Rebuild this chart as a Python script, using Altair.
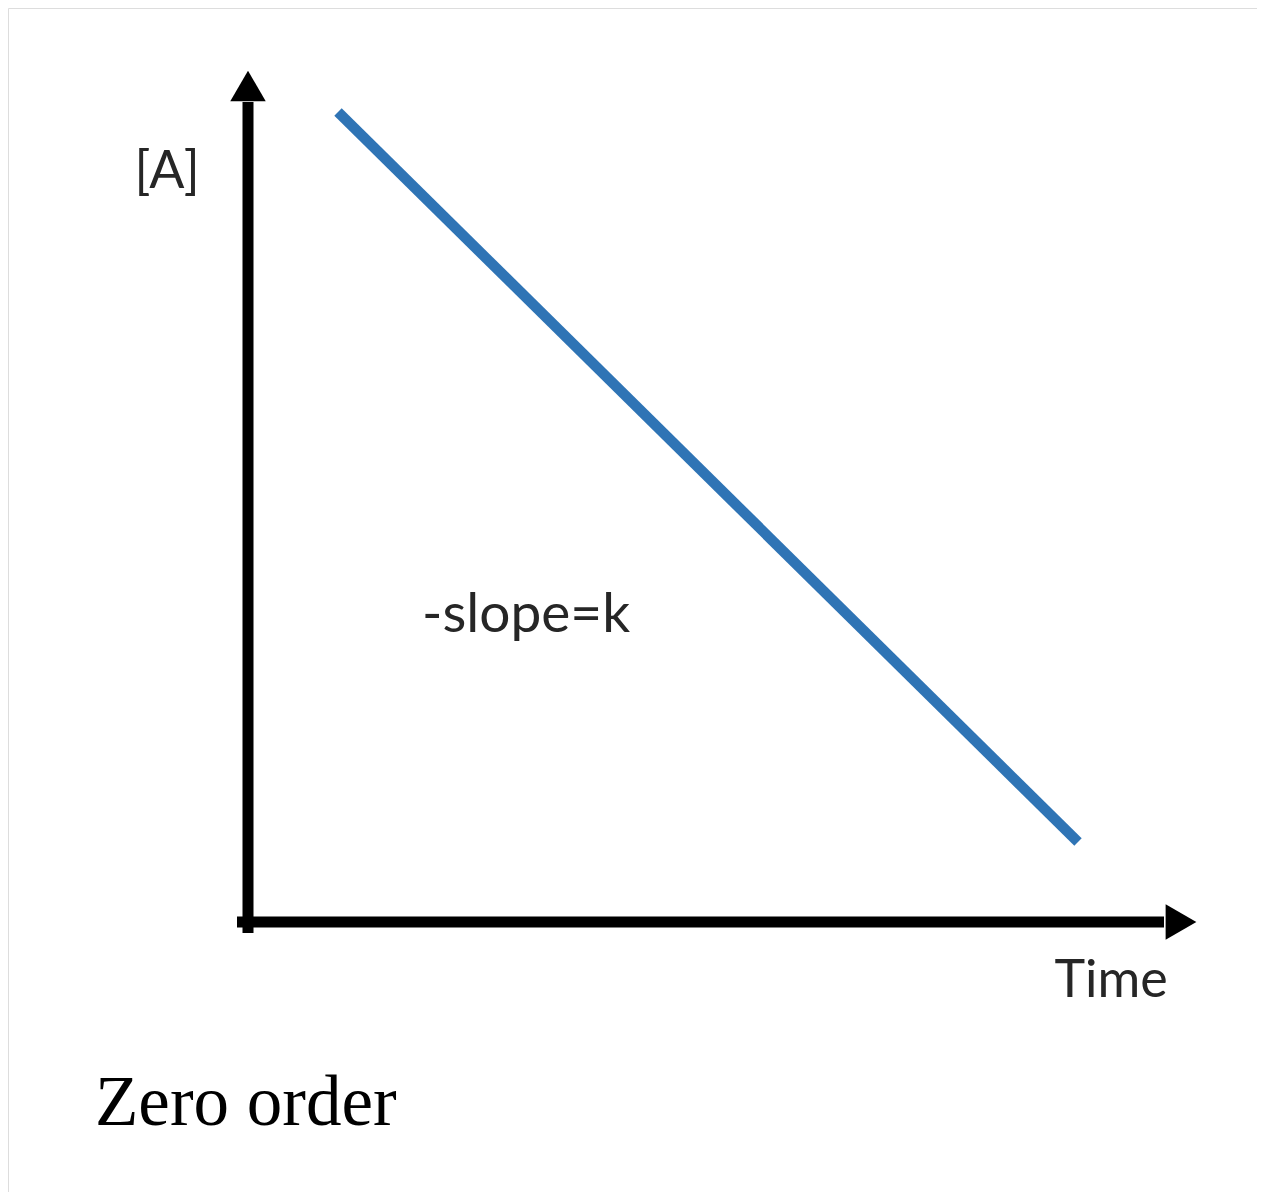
import altair as alt
import pandas as pd

# abstract units: 1 unit = 100 px; origin at the axes' corner
x_axis_t = [-0.11, 9.16]
x_axis_a = [0.0, 0.0]
y_axis_t = [0.0, 0.0]
y_axis_a = [-0.11, 8.20]

arrow_t = [9.33, 0.0]
arrow_a = [0.0, 8.36]
arrow_shape = ["triangle-right", "triangle-up"]

line_t = [0.90, 8.30]
line_a = [8.10, 0.80]

labels = ["[A]", "Time", "-slope=k"]
label_t = [-0.81, 8.63, 1.74]
label_a = [7.34, -0.75, 2.90]
label_align = ["center", "center", "left"]

caption = ["Zero order"]
caption_t = [-1.53]
caption_a = [-2.03]

xs = alt.Scale(domain=[-2.40, 10.09], nice=False, zero=False)
ys = alt.Scale(domain=[-2.70, 9.14], nice=False, zero=False)

def X(f="t"):
    return alt.X(f"{f}:Q", scale=xs, axis=None)

def Y(f="a"):
    return alt.Y(f"{f}:Q", scale=ys, axis=None)

xax = alt.Chart(pd.DataFrame({"t": x_axis_t, "a": x_axis_a})).mark_line(
    color="black", strokeWidth=11, strokeCap="butt").encode(x=X(), y=Y())
yax = alt.Chart(pd.DataFrame({"t": y_axis_t, "a": y_axis_a})).mark_line(
    color="black", strokeWidth=11, strokeCap="butt").encode(x=X(), y=Y(), order=alt.Order("a:Q"))

arrows = alt.Chart(pd.DataFrame({"t": arrow_t, "a": arrow_a, "s": arrow_shape})).mark_point(
    filled=True, color="black", opacity=1, size=1260, strokeWidth=0).encode(
    x=X(), y=Y(), shape=alt.Shape("s:N", scale=None, legend=None))

blue = alt.Chart(pd.DataFrame({"t": line_t, "a": line_a})).mark_line(
    color="#2F74B5", strokeWidth=10.5, strokeCap="butt").encode(x=X(), y=Y())

lab_df = pd.DataFrame({"t": label_t, "a": label_a, "txt": labels, "al": label_align})
lab_c = alt.Chart(lab_df[lab_df.al == "center"]).mark_text(
    font="Lato", fontSize=52, color="#262626", align="center", baseline="alphabetic").encode(
    x=X(), y=Y(), text="txt:N")
lab_l = alt.Chart(lab_df[lab_df.al == "left"]).mark_text(
    font="Lato", fontSize=55, color="#262626", align="left", baseline="alphabetic").encode(
    x=X(), y=Y(), text="txt:N")

cap = alt.Chart(pd.DataFrame({"t": caption_t, "a": caption_a, "txt": caption})).mark_text(
    font="Liberation Serif", fontSize=71, color="black", align="left", baseline="alphabetic").encode(
    x=X(), y=Y(), text="txt:N")

chart = alt.layer(xax, yax, blue, arrows, lab_c, lab_l, cap).properties(
    width=1249, height=1184, padding=0
).configure_view(stroke="transparent", strokeWidth=0).configure(background="white")

chart.save("out.html", embed_options={"renderer": "svg", "actions": False})
